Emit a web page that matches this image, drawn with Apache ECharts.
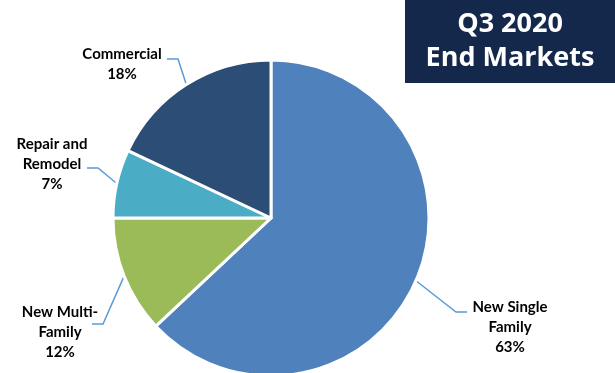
<!DOCTYPE html>
<html>
<head>
<meta charset="utf-8">
<script src="https://cdn.jsdelivr.net/npm/echarts@6/dist/echarts.min.js"></script>
<style>html,body{margin:0;padding:0;background:#fff}#c{width:615px;height:373px}</style>
</head>
<body>
<div id="c"></div>
<script>
var categories = ['New Single Family', 'New Multi-Family', 'Repair and Remodel', 'Commercial'];
var labelTexts = ['New Single\nFamily', 'New Multi-\nFamily', 'Repair and\nRemodel', 'Commercial'];
var values = [63, 12, 7, 18];
var colors = ['#4f81bd', '#9bbb59', '#4bacc6', '#2c4d75'];
var titleLines = ['Q3 2020', 'End Markets'];

// label anchors and elbow points (text placement)
var labelPos = [
  {x: 510, y: 327, elbow: [456, 312], end: [467, 312]},
  {x: 60, y: 332, elbow: [103, 324], end: [92, 324]},
  {x: 52, y: 164, elbow: [98, 168], end: [87, 168]},
  {x: 122, y: 64, elbow: [178, 59], end: [167, 59]}
];

var chart = echarts.init(document.getElementById('c'), null, {renderer: 'canvas'});
var data = categories.map(function (c, i) {
  return {name: c, value: values[i], itemStyle: {color: colors[i]}};
});

chart.setOption({
  animation: false,
  graphic: [
    {type: 'rect', left: 405, top: 0, shape: {width: 210, height: 83}, style: {fill: '#13284a'}},
    {type: 'text', x: 510, y: 24, style: {text: titleLines[0], fill: '#fff', font: 'bold 27px "Open Sans", sans-serif', align: 'center', verticalAlign: 'middle'}},
    {type: 'text', x: 510, y: 58, style: {text: titleLines[1], fill: '#fff', font: 'bold 27px "Open Sans", sans-serif', align: 'center', verticalAlign: 'middle'}}
  ],
  series: [{
    type: 'pie',
    center: [271, 218],
    radius: 158,
    startAngle: 90,
    clockwise: true,
    avoidLabelOverlap: false,
    data: data,
    itemStyle: {borderColor: '#fff', borderWidth: 3},
    label: {
      show: true,
      position: 'outside',
      formatter: function (p) { return labelTexts[p.dataIndex] + '\n' + p.value + '%'; },
      color: '#000',
      fontFamily: 'Lato, sans-serif',
      fontWeight: 'bold',
      fontSize: 15,
      lineHeight: 20,
      align: 'center'
    },
    labelLine: {show: true, length: 20, length2: 12, lineStyle: {color: '#5b9bd5', width: 1.5}},
    labelLayout: function (params) {
      var lp = labelPos[params.dataIndex];
      var edge = params.labelLinePoints ? params.labelLinePoints[0] : lp.elbow;
      return {
        x: lp.x, y: lp.y, align: 'center', verticalAlign: 'middle',
        labelLinePoints: [edge, lp.elbow, lp.end]
      };
    }
  }]
});
</script>
</body>
</html>
